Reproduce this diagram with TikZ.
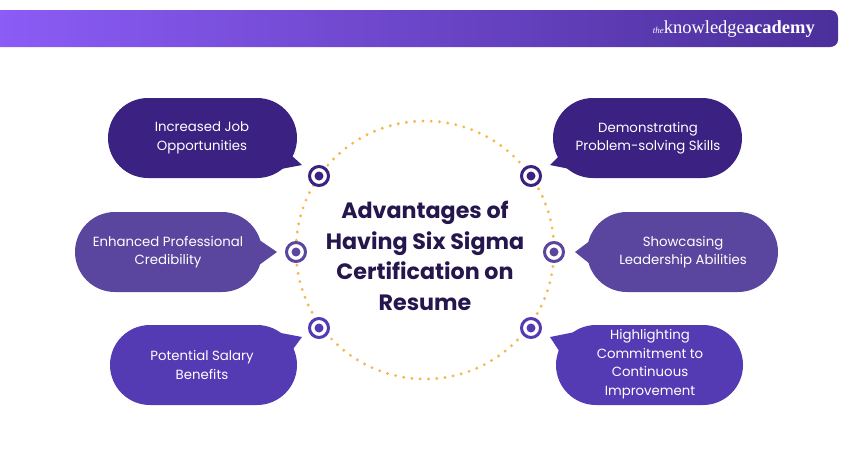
\documentclass[tikz,border=0pt]{standalone}
\usepackage{fontspec}
\setmainfont{Poppins}
\newfontfamily\logofont{Liberation Serif}
\begin{document}
\definecolor{cA}{HTML}{3A2182}
\definecolor{cB}{HTML}{5A469F}
\definecolor{cC}{HTML}{553BB3}
\definecolor{ttl}{HTML}{25164D}
\definecolor{dotc}{HTML}{F7B84B}
\definecolor{hl}{HTML}{8B5CF6}
\definecolor{hr}{HTML}{4B2F9A}
\begin{tikzpicture}[x=1pt,y=-1pt,
  bub/.style={rounded corners=40pt,inner sep=0pt},
  btxt/.style={text=white,font=\fontsize{13.3}{18.5}\selectfont,align=center},
  mk/.style={circle,draw=#1,line width=3pt,fill=white,minimum size=19pt,inner sep=0pt,
    path picture={\fill[#1] (path picture bounding box.center) circle (4.5pt);}}]
\useasboundingbox (0,0) rectangle (850,450);
\fill[white] (0,0) rectangle (850,450);
% header
\shade[left color=hl,right color=hr] (0,10) -- (830,10) to[out=0,in=90] (838,18) -- (838,40) to[out=-90,in=0] (830,47) -- (0,47) -- cycle;
\node[anchor=east,text=white,inner sep=0pt] (logo) at (815,29) {\logofont{\fontsize{9}{9}\selectfont\itshape the}{\fontsize{18.5}{18}\selectfont knowledge}{\fontsize{18.5}{18}\selectfont\bfseries academy}};
% circle
\draw[dotc,line width=3.2pt,line cap=round,dash pattern=on 0pt off 8.3pt] (425,250) circle (129);
% bubbles
\fill[cA,bub] (108,98) rectangle (297,178); \fill[cA] (280,145) -- (302,165) -- (265,172) -- cycle;
\fill[cB,bub] (75,212) rectangle (262,292); \fill[cB] (255,237) -- (277,252) -- (255,268) -- cycle;
\fill[cC,bub] (110,325) rectangle (297,405); \fill[cC] (265,330) -- (302,337) -- (285,360) -- cycle;
\fill[cA,bub] (553,98) rectangle (742,178); \fill[cA] (570,145) -- (550,165) -- (585,172) -- cycle;
\fill[cB,bub] (587,212) rectangle (778,292); \fill[cB] (595,237) -- (575,252) -- (595,268) -- cycle;
\fill[cC,bub] (556,325) rectangle (743,405); \fill[cC] (585,330) -- (550,337) -- (565,360) -- cycle;
\node[btxt] (t1) at (202,138) {Increased Job\\Opportunities};
\node[btxt] (t2) at (168,252) {Enhanced Professional\\Credibility};
\node[btxt] (t3) at (202,365) {Potential Salary\\Benefits};
\node[btxt] (t4) at (648,138) {Demonstrating\\Problem-solving Skills};
\node[btxt] (t5) at (683,252) {Showcasing\\Leadership Abilities};
\node[btxt] (t6) at (650,364) {Highlighting\\Commitment to\\Continuous\\Improvement};
% markers
\node[mk=cA] (m1) at (319,176) {};
\node[mk=cB] (m2) at (296,252) {};
\node[mk=cC] (m3) at (319,328) {};
\node[mk=cA] (m4) at (531,176) {};
\node[mk=cB] (m5) at (554,252) {};
\node[mk=cC] (m6) at (531,328) {};
% title
\node[text=ttl,align=center,font=\fontsize{22.2}{30.5}\selectfont\bfseries] (title) at (425,256) {Advantages of\\Having Six Sigma\\Certification on\\Resume};
\end{tikzpicture}
\end{document}
